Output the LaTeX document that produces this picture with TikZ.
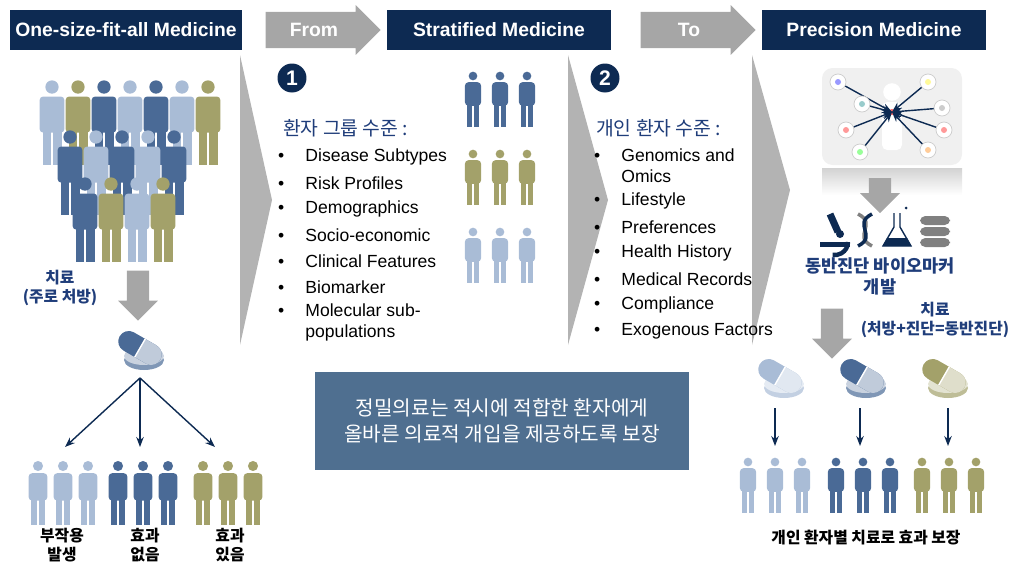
\documentclass[tikz,border=0pt]{standalone}
\usepackage{fontspec}
\setmainfont{Liberation Sans}
\newfontfamily\kr{Noto Sans CJK KR}
\usetikzlibrary{arrows.meta,positioning,shapes.arrows}
\definecolor{navy}{HTML}{0D2A52}
\definecolor{pdark}{HTML}{4A6A96}
\definecolor{plight}{HTML}{A9BCD6}
\definecolor{polive}{HTML}{A3A16A}
\definecolor{arrgray}{HTML}{A6A6A6}
\definecolor{boxblue}{HTML}{4F6F90}
\definecolor{krblue}{HTML}{1F3D7A}
% person icon: x, y (head centre), colour, scale
\newcommand\person[4]{%
  \begin{scope}[shift={(#1,#2)},scale=#4]
    \fill[#3] (0,0) circle (7);
    \fill[#3, rounded corners=2] (-13,10) rectangle (13,48);
    \fill[#3] (-10,46) rectangle (-1,82);
    \fill[#3] (1,46) rectangle (10,82);
  \end{scope}}
% capsule and tablet icon: x, y, colour
\newcommand\pillicon[3]{%
  \begin{scope}[shift={(#1,#2)}]
    \fill[#3!70] (4,12) ellipse (20 and 10);
    \fill[#3!30] (4,8) ellipse (20 and 9);
    \begin{scope}[rotate=-30]
      \draw[#3, line width=0.42cm, line cap=round] (-13,0) -- (13,0);
      \draw[#3!35, line width=0.42cm] (0,0) -- (13,0);
      \fill[#3!35] (13,0) circle (10.5);
      \draw[white, thick] (0,-10.5) -- (0,10.5);
    \end{scope}
  \end{scope}}
\begin{document}
\begin{tikzpicture}[x=0.02cm, y=-0.02cm,
    header/.style={fill=navy, text=white, font=\fontsize{11}{13}\selectfont\bfseries, minimum width=4.48cm, minimum height=0.8cm},
    fromto/.style={single arrow, fill=arrgray, text=white, font=\fontsize{11}{13}\selectfont\bfseries, minimum height=2.3cm, minimum width=1cm, single arrow head extend=0.08cm, inner sep=2pt},
    num/.style={circle, fill=navy, text=white, font=\bfseries\large, minimum size=0.58cm, inner sep=0pt},
    lvl/.style={anchor=west, text=krblue, font=\kr\fontsize{11}{13}\selectfont},
    item/.style={anchor=west, font=\fontsize{10}{12}\selectfont, align=left},
    krtext/.style={text=krblue, font=\kr\bfseries\small, align=center},
    down/.style={single arrow, shape border rotate=270, fill=arrgray, minimum height=1cm, minimum width=0.8cm, single arrow head extend=0.1cm},
    thin/.style={-{Stealth[length=2mm]}, navy, thick},
]
\useasboundingbox (0,0) rectangle (1019,582);

% headers
\node[header] (h1) at (126,30) {One-size-fit-all Medicine};
\node[header] (h2) at (499,30) {Stratified Medicine};
\node[header] (h3) at (874,30) {Precision Medicine};
\node[fromto] (from) at (314,30) {From\hspace{6pt}};
\node[fromto] (to) at (689,30) {To\hspace{8pt}};

% separators
\fill[arrgray!85] (240,55) -- (272,200) -- (240,345) -- cycle;
\fill[arrgray!85] (568,55) -- (608,200) -- (568,345) -- cycle;
\fill[arrgray!85] (752,55) -- (790,190) -- (752,345) -- cycle;

% crowd
\foreach \x/\c in {52/plight,78/polive,104/pdark,130/plight,156/pdark,182/plight,208/polive}
  \person{\x}{87}{\c}{0.95};
\foreach \x/\c in {70/pdark,96/plight,122/pdark,148/plight,174/pdark}
  \person{\x}{137}{\c}{0.95};
\foreach \x/\c in {85/pdark,111/polive,137/plight,163/polive}
  \person{\x}{184}{\c}{0.95};

\node[krtext] (tx1) at (60,288) {치료\\(주로 처방)};
\node[down] (d1) at (138,290) {};
\pillicon{140}{348}{pdark}
\coordinate (pill1) at (140,378);
\coordinate (g1) at (65,447);
\coordinate (g2) at (140,447);
\coordinate (g3) at (215,447);
\foreach \g in {g1,g2,g3} \draw[thin] (pill1) -- (\g);
\foreach \x in {38,63,88} \person{\x}{466}{plight}{0.72};
\foreach \x in {118,143,168} \person{\x}{466}{pdark}{0.72};
\foreach \x in {203,228,253} \person{\x}{466}{polive}{0.72};
\node[font=\kr\bfseries\small, align=center] (l1) at (62,545) {부작용\\발생};
\node[font=\kr\bfseries\small, align=center] (l2) at (145,545) {효과\\없음};
\node[font=\kr\bfseries\small, align=center] (l3) at (230,545) {효과\\있음};

% stratified
\node[num] (n1) at (292,78) {1};
\node[lvl] (lv1) at (277,128) {환자 그룹 수준 :};
\foreach \t [count=\i] in {Disease Subtypes,Risk Profiles,Demographics,Socio-economic,Clinical Features,Biomarker}
  \node[item] (a\i) at (272,131+26*\i) {\textbullet\hspace{12pt}\t};
\node[item] (a7) at (272,322) {\textbullet\hspace{12pt}Molecular sub-\\\hphantom{\textbullet\hspace{12pt}}populations};
\foreach \x in {473,500,527} \person{\x}{76}{pdark}{0.62};
\foreach \x in {473,500,527} \person{\x}{154}{polive}{0.62};
\foreach \x in {473,500,527} \person{\x}{232}{plight}{0.62};

\node[num] (n2) at (605,78) {2};
\node[lvl] (lv2) at (590,128) {개인 환자 수준 :};
\node[item] (b1) at (588,166) {\textbullet\hspace{12pt}Genomics and\\\hphantom{\textbullet\hspace{12pt}}Omics};
\foreach \t [count=\i from 2] in {Lifestyle,Preferences,Health History,Medical Records,Compliance,Exogenous Factors}
  \node[item] (b\i) at (588,149+26*\i) {\textbullet\hspace{12pt}\t};

% message box
\node[fill=boxblue, text=white, font=\kr\fontsize{11.5}{15}\selectfont, align=center, minimum width=7.5cm, minimum height=1.95cm] (msg) at (502,421) {정밀의료는 적시에 적합한 환자에게\\올바른 의료적 개입을 제공하도록 보장};

% precision
\fill[gray!12, rounded corners=6] (822,68) rectangle (962,165);
\shade[top color=gray!35, bottom color=white] (822,168) rectangle (962,195);
\node[circle, fill=white, minimum size=10pt, inner sep=0pt] (hd) at (892,92) {};
\fill[white, rounded corners=3] (882,102) rectangle (902,150);
\fill[red!60] (892,112) circle (3);
\foreach \x/\y/\c in {838/82/blue,862/104/teal,846/130/red,860/152/green,928/82/yellow,942/108/gray,944/130/red,928/150/orange}
  {\draw[gray!40, thin] (\x,\y) -- (892,112);
   \filldraw[draw=gray!40, fill=white] (\x,\y) circle (8);
   \fill[\c!40] (\x,\y) circle (3);}
\node[down, minimum height=0.7cm, minimum width=0.8cm] (d2) at (880,190) {};
% microscope
\fill[navy] (820,242) rectangle (850,247);
\draw[navy, line width=4pt] (830,214) -- (838,232);
\fill[navy] (840,234) circle (4);
\draw[navy, line width=2.5pt] (848,242) arc (0:100:13);
% dna
\draw[gray, line width=2pt] (858,214) .. controls (878,224) and (852,236) .. (872,246);
\draw[navy, line width=2pt] (872,214) .. controls (852,224) and (878,236) .. (858,246);
% flask
\draw[navy, thick] (894,213) -- (894,227) -- (883,246) -- (911,246) -- (900,227) -- (900,213);
\fill[navy] (887,238) -- (907,238) -- (911,246) -- (883,246) -- cycle;
\fill[navy] (906,208) circle (1.5);
% database
\foreach \y in {216,227,238} \fill[gray, rounded corners=3] (920,\y) rectangle (950,\y+9);
\node[krtext, font=\kr\bfseries] (tx3) at (880,276) {동반진단 바이오마커\\개발};
\node[down] (d3) at (832,328) {};
\node[krtext] (tx4) at (935,320) {치료\\(처방+진단=동반진단)};
\pillicon{780}{376}{plight}
\pillicon{862}{376}{pdark}
\pillicon{944}{376}{polive}
\foreach \x [count=\i] in {775,860,948}
  {\coordinate (p\i) at (\x,408); \coordinate (q\i) at (\x,446); \draw[thin] (p\i) -- (q\i);}
\foreach \x in {748,775,802} \person{\x}{462}{plight}{0.62};
\foreach \x in {836,863,890} \person{\x}{462}{pdark}{0.62};
\foreach \x in {922,949,976} \person{\x}{462}{polive}{0.62};
\node[font=\kr\bfseries\small] (res) at (866,538) {개인 환자별 치료로 효과 보장};
\end{tikzpicture}
\end{document}
